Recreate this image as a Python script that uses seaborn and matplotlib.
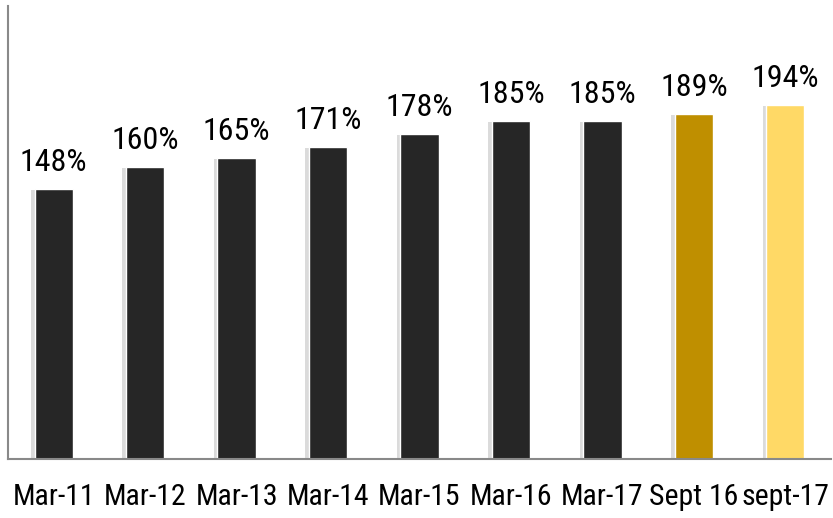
import matplotlib
matplotlib.use("Agg")
import matplotlib.pyplot as plt
import matplotlib.patheffects as pe
import seaborn as sns
import pandas as pd

categories = ["Mar-11", "Mar-12", "Mar-13", "Mar-14", "Mar-15", "Mar-16", "Mar-17", "Sept 16", "sept-17"]
values = [148, 160, 165, 171, 178, 185, 185, 189, 194]
colors = ["#262626"] * 7 + ["#BF8F00", "#FFD966"]

sns.set_theme(style="white")
plt.rcParams["font.family"] = ["Roboto Condensed", "Liberation Sans", "DejaVu Sans"]

df = pd.DataFrame({"cat": categories, "val": values})

fig = plt.figure(figsize=(8.33, 5.18), dpi=100)
ax = fig.add_axes([8/833, 59/518, 823/833, 453/518])
sns.barplot(data=df, x="cat", y="val", hue="cat", palette=colors, width=0.42,
            legend=False, ax=ax, saturation=1)
for p in ax.patches:
    p.set_path_effects([pe.SimplePatchShadow(offset=(-2.5, -1), shadow_rgbFace="#9a9a9a", alpha=0.35), pe.Normal()])

ax.set_xlim(-0.5, len(categories) - 0.5)
ax.set_ylim(0, 248)
ax.set_xlabel("")
ax.set_ylabel("")
ax.set_yticks([])
for s in ["top", "right"]:
    ax.spines[s].set_visible(False)
for s in ["left", "bottom"]:
    ax.spines[s].set_color("#898989")
    ax.spines[s].set_linewidth(1.5)

ax.set_xticks(range(len(categories)))
ax.set_xticklabels(categories, fontsize=21.5, color="black")
ax.tick_params(axis="x", which="major", length=0, pad=17)
ax.set_xticks([i - 0.5 for i in range(len(categories) + 1)], minor=True)
ax.tick_params(axis="x", which="minor", length=8, width=1.5, color="#898989", direction="out")

for i, v in enumerate(values):
    ax.annotate(f"{v}%", (i, v), xytext=(0, 13), textcoords="offset points",
                ha="center", va="baseline", fontsize=23, color="black")

fig.savefig("out.png", dpi=100)
